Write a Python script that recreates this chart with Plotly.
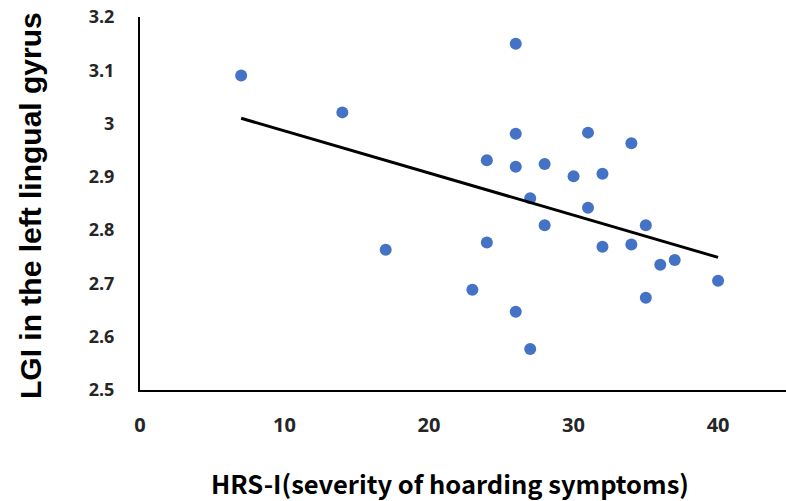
import plotly.graph_objects as go

# Data
hrs_i = [7, 14, 17, 23, 24, 24, 26, 26, 26, 26, 27, 27, 28, 28, 30, 31, 31, 32, 32, 34, 34, 35, 35, 36, 37, 40]
lgi = [3.090, 3.021, 2.763, 2.688, 2.931, 2.777, 3.150, 2.981, 2.919, 2.647, 2.860, 2.577, 2.924, 2.809,
       2.901, 2.983, 2.842, 2.906, 2.769, 2.963, 2.773, 2.809, 2.673, 2.735, 2.744, 2.705]

trend_x = [7, 40]
trend_y = [3.010, 2.749]

x_ticks = [0, 10, 20, 30, 40]
y_ticks = [2.5, 2.6, 2.7, 2.8, 2.9, 3.0, 3.1, 3.2]
y_tick_labels = ["2.5", "2.6", "2.7", "2.8", "2.9", "3", "3.1", "3.2"]

x_title = "HRS-I(severity of hoarding symptoms)"
y_title = "LGI in the left lingual gyrus"

W, H = 786, 501
ML, MR, MT, MB = 140, 0, 17, 111

fig = go.Figure()
fig.add_trace(go.Scatter(
    x=hrs_i, y=lgi, mode="markers",
    marker=dict(color="#4472C4", size=12, line=dict(width=0)),
    showlegend=False, hoverinfo="x+y",
))
fig.add_trace(go.Scatter(
    x=trend_x, y=trend_y, mode="lines",
    line=dict(color="black", width=3),
    showlegend=False, hoverinfo="skip",
))

plot_w = W - ML - MR
plot_h = H - MT - MB


def px_to_paper_x(px):
    return (px - ML) / plot_w


def px_to_paper_y(py):
    return (H - MB - py) / plot_h


fig.update_layout(
    width=W, height=H,
    margin=dict(l=ML, r=MR, t=MT, b=MB, pad=0),
    paper_bgcolor="white", plot_bgcolor="white",
    xaxis=dict(
        range=[0, 44.7], tickvals=x_ticks, ticktext=[str(v) for v in x_ticks],
        showgrid=False, zeroline=False, showline=True, linecolor="black", linewidth=2,
        ticks="", ticklabelstandoff=16,
        tickfont=dict(family="Open Sans", size=20, color="#262626", weight="bold"),
    ),
    yaxis=dict(
        range=[2.5, 3.2], tickvals=y_ticks, ticktext=y_tick_labels,
        showgrid=False, zeroline=False, showline=True, linecolor="black", linewidth=2,
        ticks="", ticklabelstandoff=20,
        tickfont=dict(family="Open Sans", size=18, color="#262626", weight="bold"),
    ),
    annotations=[
        dict(text=x_title, xref="paper", yref="paper",
             x=px_to_paper_x(450), y=px_to_paper_y(482),
             xanchor="center", yanchor="middle", showarrow=False,
             font=dict(family="Noto Sans CJK JP", size=25.5, color="black", weight="bold")),
        dict(text=y_title, xref="paper", yref="paper",
             x=px_to_paper_x(30), y=px_to_paper_y(206),
             xanchor="center", yanchor="middle", showarrow=False, textangle=-90,
             font=dict(family="Liberation Sans", size=30, color="black", weight="bold")),
    ],
)

fig.write_html("out.html")
